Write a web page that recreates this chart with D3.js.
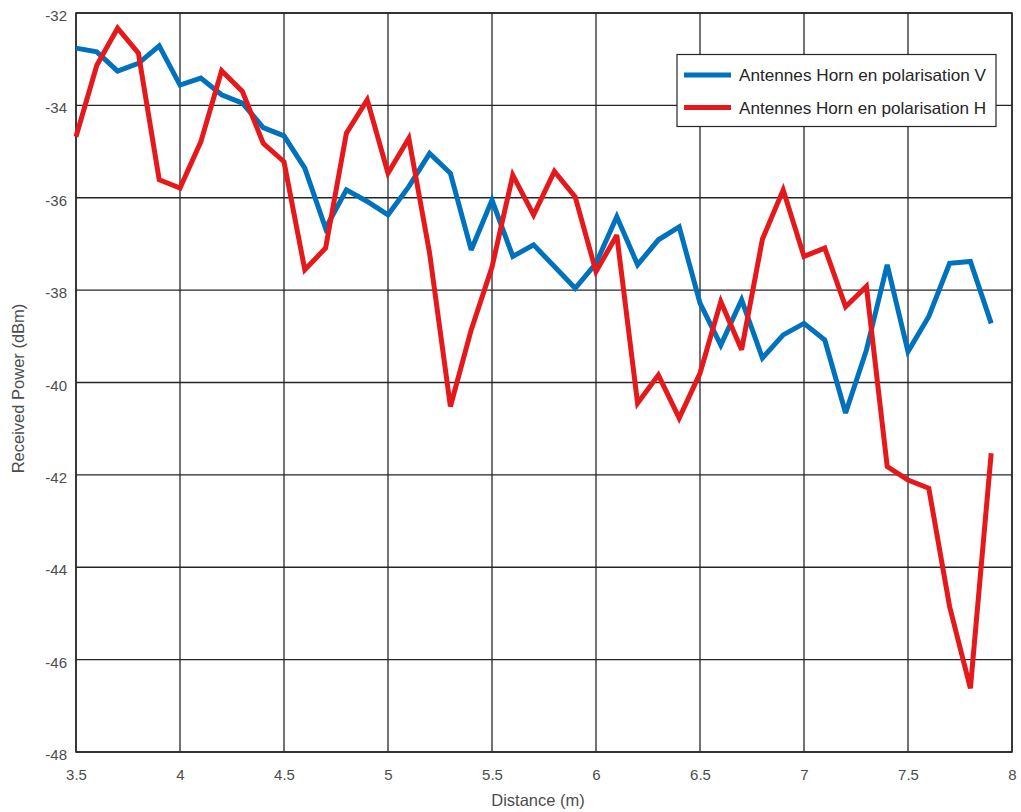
<!DOCTYPE html>
<html><head><meta charset="utf-8">
<script src="https://cdn.jsdelivr.net/npm/d3@7"></script>
<style>body{margin:0;background:#fff}svg{display:block}text{font-family:"Liberation Sans",Arial,sans-serif}</style>
</head><body><svg id="c" width="1021" height="812"></svg>
<script>
const distance = [3.5,3.6,3.7,3.8,3.9,4.0,4.1,4.2,4.3,4.4,4.5,4.6,4.7,4.8,4.9,5.0,5.1,5.2,5.3,5.4,5.5,5.6,5.7,5.8,5.9,6.0,6.1,6.2,6.3,6.4,6.5,6.6,6.7,6.8,6.9,7.0,7.1,7.2,7.3,7.4,7.5,7.6,7.7,7.8,7.9];
const powerV = [-32.76,-32.84,-33.26,-33.09,-32.71,-33.56,-33.41,-33.77,-33.95,-34.48,-34.66,-35.36,-36.66,-35.83,-36.08,-36.37,-35.76,-35.04,-35.47,-37.13,-36.05,-37.27,-37.02,-37.49,-37.96,-37.42,-36.41,-37.45,-36.91,-36.63,-38.28,-39.19,-38.21,-39.47,-38.97,-38.72,-39.08,-40.66,-39.3,-37.45,-39.33,-38.57,-37.42,-37.38,-38.72];
const powerH = [-34.68,-33.13,-32.33,-32.87,-35.61,-35.79,-34.79,-33.25,-33.70,-34.82,-35.22,-37.56,-37.09,-34.60,-33.88,-35.47,-34.71,-37.2,-40.52,-38.86,-37.5,-35.51,-36.37,-35.43,-35.98,-37.6,-36.81,-40.45,-39.84,-40.77,-39.8,-38.25,-39.29,-36.9,-35.83,-37.27,-37.09,-38.36,-37.92,-41.82,-42.11,-42.29,-44.85,-46.62,-41.53];
const xTicks = [3.5,4,4.5,5,5.5,6,6.5,7,7.5,8];
const yTicks = [-48,-46,-44,-42,-40,-38,-36,-34,-32];
const seriesNames = ["Antennes Horn en polarisation V","Antennes Horn en polarisation H"];
const seriesColors = ["#0072BD","#E5191B"];

const svg = d3.select("#c");
const L=76,R=1012,T=13,B=752;
const x = d3.scaleLinear().domain([3.5,8]).range([L,R]);
const y = d3.scaleLinear().domain([-48,-32]).range([B,T]);
const grid="#262626", tc="#4d4d4d";

// grid
svg.append("g").selectAll("line").data(xTicks).join("line")
  .attr("x1",d=>x(d)).attr("x2",d=>x(d)).attr("y1",T).attr("y2",B)
  .attr("stroke",grid).attr("stroke-width",1.3);
svg.append("g").selectAll("line").data(yTicks).join("line")
  .attr("y1",d=>y(d)).attr("y2",d=>y(d)).attr("x1",L).attr("x2",R)
  .attr("stroke",grid).attr("stroke-width",1.3);

// axes
const fmt = d=>d3.format("")(d).replace("−","-");
const xa = svg.append("g").attr("transform",`translate(0,${B})`)
  .call(d3.axisBottom(x).tickValues(xTicks).tickSize(0).tickPadding(17).tickFormat(fmt));
const ya = svg.append("g").attr("transform",`translate(${L},0)`)
  .call(d3.axisLeft(y).tickValues(yTicks).tickSize(0).tickPadding(9).tickFormat(fmt));
[xa,ya].forEach(a=>{a.select(".domain").remove();a.selectAll("text").attr("font-size",15).attr("fill",tc).attr("font-family","Liberation Sans, Arial, sans-serif");});
ya.selectAll("text").attr("dy","0.5em");
svg.append("rect").attr("x",L).attr("y",T).attr("width",R-L).attr("height",B-T)
  .attr("fill","none").attr("stroke",grid).attr("stroke-width",1.5);

// lines
const line = d3.line().x((d,i)=>x(distance[i])).y(d=>y(d));
[powerV,powerH].forEach((s,k)=>{
  svg.append("path").datum(s).attr("d",line).attr("fill","none")
    .attr("stroke",seriesColors[k]).attr("stroke-width",5).attr("stroke-linejoin","miter").attr("stroke-miterlimit",3);
});

// labels
svg.append("text").attr("x",(L+R)/2-6).attr("y",806).attr("text-anchor","middle")
  .attr("font-size",16.5).attr("fill",tc).text("Distance (m)");
svg.append("text").attr("transform",`translate(24,${(T+B)/2+6}) rotate(-90)`).attr("text-anchor","middle")
  .attr("font-size",16.5).attr("fill",tc).text("Received Power (dBm)");

// legend
const lg = svg.append("g");
lg.append("rect").attr("x",677).attr("y",54.5).attr("width",319).attr("height",72)
  .attr("fill","#fff").attr("stroke",grid).attr("stroke-width",1.2);
[75,107.5].forEach((yy,k)=>{
  lg.append("line").attr("x1",684).attr("x2",731).attr("y1",yy).attr("y2",yy)
    .attr("stroke",seriesColors[k]).attr("stroke-width",5);
  lg.append("text").attr("x",739).attr("y",yy+6).attr("font-size",16.5).attr("fill","#262626")
    .attr("textLength",247).attr("lengthAdjust","spacingAndGlyphs").text(seriesNames[k]);
});
</script></body></html>
